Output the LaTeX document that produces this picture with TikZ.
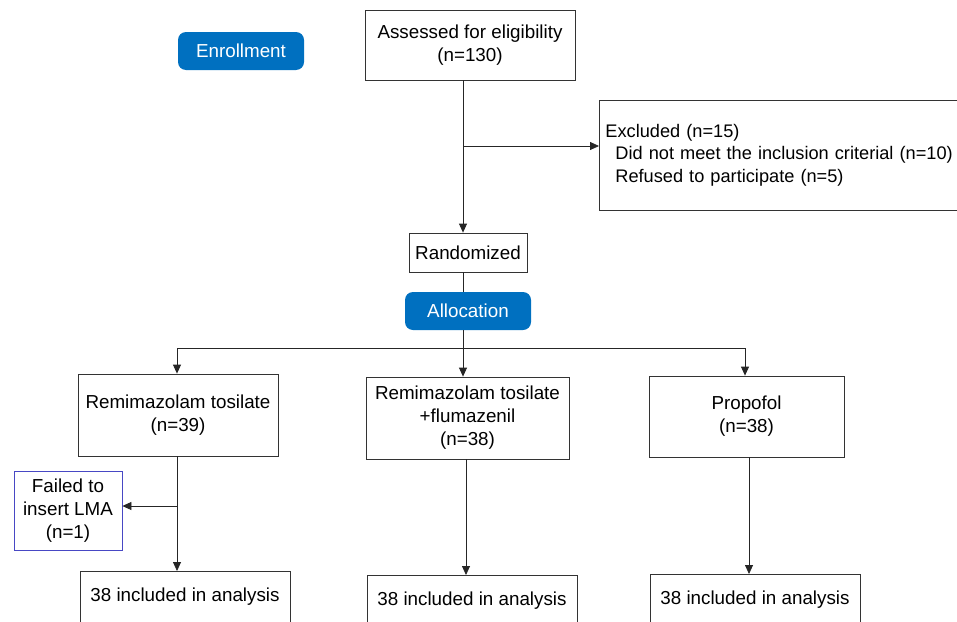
\documentclass[tikz,border=0pt]{standalone}
\usepackage{fontspec}
\setmainfont{Liberation Sans}
\usetikzlibrary{arrows.meta}
\definecolor{hdrblue}{RGB}{0,112,192}
\definecolor{failblue}{RGB}{72,72,196}
\begin{document}
\begin{tikzpicture}[x=1pt,y=-1pt,font=\fontsize{18.8}{23}\selectfont,
  box/.style={draw=black!80,line width=0.8pt,inner sep=0pt,align=center},
  hdr/.style={fill=hdrblue,rounded corners=8pt,text=white,inner sep=0pt,minimum width=126pt,minimum height=38pt},
  arr/.style={-{Triangle[length=9pt,width=8pt]},line width=0.8pt,draw=black!85},
  ln/.style={line width=0.8pt,draw=black!85}]
\useasboundingbox (0,0) rectangle (957,621);
\clip (0,0) rectangle (957,621);
\fill[white] (0,0) rectangle (957,621);
% nodes
\node[hdr] (enr) at (241,51) {Enrollment};
\node[box,minimum width=210pt,minimum height=70pt] (assess) at (470,45) {Assessed for eligibility\\(n=130)};
\node[box,anchor=west,minimum height=110pt,text width=366pt,inner xsep=6pt,align=left,font=\fontsize{18.2}{22.5}\selectfont] (excl) at (599,155)
  {Excluded (n=15)\\\hspace*{10pt}Did not meet the inclusion criterial (n=10)\\\hspace*{10pt}Refused to participate (n=5)};
\node[box,minimum width=118pt,minimum height=39pt] (rand) at (468,252.5) {Randomized};
\node[hdr] (alloc) at (468,311) {Allocation};
\node[box,minimum width=200pt,minimum height=82pt] (b1) at (178,415) {Remimazolam tosilate\\(n=39)};
\node[box,minimum width=203pt,minimum height=82pt] (b2) at (467.5,418) {Remimazolam tosilate\\+flumazenil\\(n=38)};
\node[box,minimum width=195pt,minimum height=81pt] (b3) at (746.5,416.5) {Propofol\\(n=38)};
\node[box,draw=failblue,minimum width=108pt,minimum height=79pt] (fail) at (68,510.5) {Failed to\\insert LMA\\(n=1)};
\node[box,anchor=north,minimum width=210pt,minimum height=69pt] (ba) at (185,571) {38 included in analysis\\~};
\node[box,anchor=north,minimum width=210pt,minimum height=69pt] (bb) at (472,575) {38 included in analysis\\~};
\node[box,anchor=north,minimum width=210pt,minimum height=69pt] (bc) at (755,574) {38 included in analysis\\~};
% connectors
\coordinate (j1) at (463,146);
\draw[arr] (assess.south -| j1) -- (rand.north -| j1);
\draw[arr] (j1) -- (excl.west |- j1);
\draw[ln] (rand.south -| j1) -- (alloc.north -| j1);
\coordinate (j2) at (463,348);
\coordinate (l) at (177,348);
\coordinate (r) at (745,348);
\draw[ln] (alloc.south -| j2) -- (j2);
\draw[ln] (l) -- (r);
\draw[arr] (l) -- (l |- b1.north);
\draw[arr] (j2) -- (j2 |- b2.north);
\draw[arr] (r) -- (r |- b3.north);
\coordinate (j3) at (177,506);
\draw[arr] (j3 |- b1.south) -- (j3 |- ba.north);
\draw[arr] (j3) -- (fail.east |- j3);
\coordinate (j4) at (466,460);
\draw[arr] (j4 |- b2.south) -- (j4 |- bb.north);
\coordinate (j5) at (749,460);
\draw[arr] (j5 |- b3.south) -- (j5 |- bc.north);
\end{tikzpicture}
\end{document}
